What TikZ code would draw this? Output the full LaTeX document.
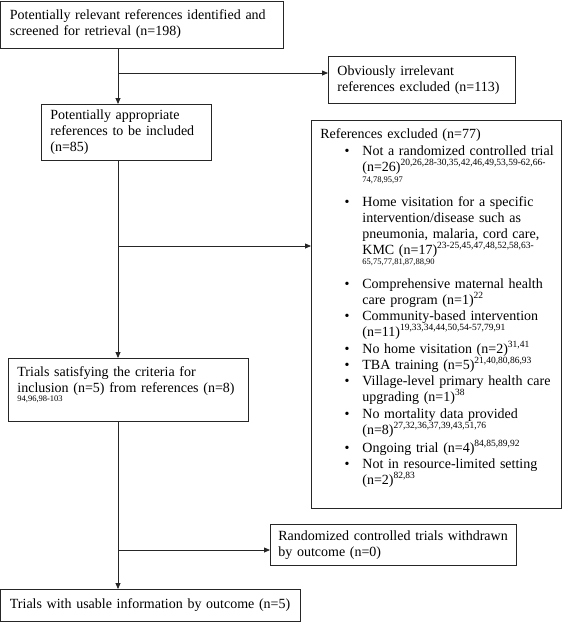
\documentclass[tikz,border=0pt]{standalone}
\usepackage{fontspec}
\setmainfont{Liberation Serif}
\usetikzlibrary{arrows.meta}
\newcommand\supr[1]{\raisebox{5.5pt}{\fontsize{9.5}{9.5}\selectfont #1}}
\newcommand\ovl[1]{{\fontsize{8.5}{9}\selectfont #1}}
\newcommand\bul{\noindent\llap{\textbullet\hspace{13pt}}}
\begin{document}
\begin{tikzpicture}[x=1pt,y=-1pt,
  box/.style={draw=black!85, line width=0.8pt, anchor=north west, inner xsep=9pt, inner ysep=0pt, align=left, font=\fontsize{14}{16}\selectfont},
  arr/.style={draw=black!85, line width=0.8pt, -{Triangle[length=6pt,width=5pt]}}]
\useasboundingbox (0,0) rectangle (563,622);

\node[box, text width=264pt, minimum height=47pt] (b1) at (0.5,0.5)
  {Potentially relevant references identified and\\ screened for retrieval (n=198)};
\node[box, text width=169pt, minimum height=47pt] (obv) at (328,56)
  {Obviously irrelevant\\ references excluded (n=113)};
\node[box, text width=152pt, minimum height=56pt] (b2) at (41,104)
  {Potentially appropriate\\ references to be included\\ (n=85)};
\node[box, text width=232pt] (exc) at (311,120)
  {\parbox[c][388pt][t]{232pt}{\leftskip=0pt\rightskip=-30pt\parskip=0pt
  \vspace*{8pt}\noindent References excluded (n=77)\par
  \leftskip=42pt
  \vspace{1pt}
  \bul Not a randomized controlled trial\\ (n=26)\supr{20,26,28-30,35,42,46,49,53,59-62,66-}\\[-5pt] \ovl{74,78,95,97}\par
  \vspace{8pt}
  \bul Home visitation for a specific\\ intervention/disease such as\\ pneumonia, malaria, cord care,\\ KMC (n=17)\supr{23-25,45,47,48,52,58,63-}\\[-6pt] \ovl{65,75,77,81,87,88,90}\par
  \vspace{8pt}
  \bul Comprehensive maternal health\\ care program (n=1)\supr{22}\par
  \bul Community-based intervention\\ (n=11)\supr{19,33,34,44,50,54-57,79,91}\par
  \vspace{1pt}
  \bul No home visitation (n=2)\supr{31,41}\par
  \bul TBA training (n=5)\supr{21,40,80,86,93}\par
  \bul Village-level primary health care\\ upgrading (n=1)\supr{38}\par
  \vspace{1pt}
  \bul No mortality data provided\\ (n=8)\supr{27,32,36,37,39,43,51,76}\par
  \vspace{2pt}
  \bul Ongoing trial (n=4)\supr{84,85,89,92}\par
  \bul Not in resource-limited setting\\ (n=2)\supr{82,83}\par}};
\node[box, text width=222pt] (b3) at (8,358)
  {\parbox[c][63pt][t]{222pt}{\vspace*{8pt}\noindent Trials satisfying the criteria for\\ inclusion (n=5) from references (n=8)\\[-7pt] \ovl{94,96,98-103}}};
\node[box, inner xsep=8pt, text width=230pt, minimum height=41pt] (wd) at (270,524)
  {Randomized controlled trials withdrawn\\ by outcome (n=0)};
\node[box, text width=281pt, minimum height=32pt] (fin) at (0.5,589)
  {Trials with usable information by outcome (n=5)};

\coordinate (sp) at (118,0);
\coordinate (j1) at (118,73);
\coordinate (j2) at (118,246);
\coordinate (j3) at (118,550);
\draw[arr] (b1.south -| sp) -- (b2.north -| sp);
\draw[arr] (j1) -- (j1 -| obv.west);
\draw[arr] (b2.south -| sp) -- (b3.north -| sp);
\draw[arr] (j2) -- (j2 -| exc.west);
\draw[arr] (b3.south -| sp) -- (fin.north -| sp);
\draw[arr] (j3) -- (j3 -| wd.west);
\end{tikzpicture}
\end{document}
